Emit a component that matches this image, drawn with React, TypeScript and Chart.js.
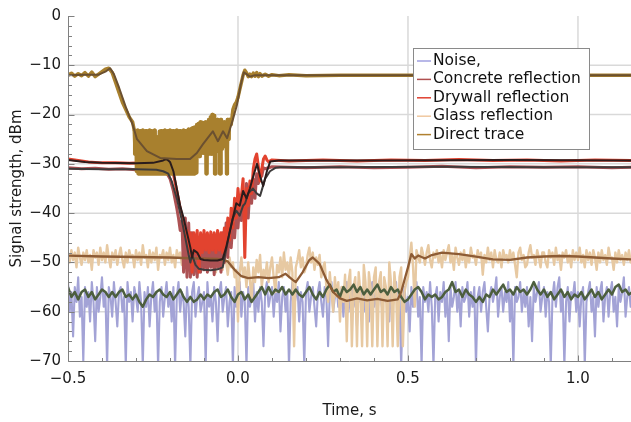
import React, { useEffect, useRef } from 'react';
import { Chart, registerables } from 'chart.js';
Chart.register(...registerables);

// ---------- data ----------
// dense series sampled every 5 ms from t = -0.5 s
const T0 = -0.5;
const DT_FINE = 0.005;
const DT_SMOOTH = 0.01;

const noiseRaw = [
  -54,-60,-56,-65,-55,-58,-53,-61,-57,-70,-55,-59,-56,-62,-54,-58,-66,-55,-60,-57,
  -53,-59,-56,-71,-55,-57,-61,-54,-58,-63,-56,-55,-60,-57,-71,-54,-58,-56,-62,-55,
  -57,-60,-54,-58,-71,-56,-59,-55,-63,-57,-54,-60,-56,-71,-58,-55,-61,-57,-54,-59,
  -56,-62,-55,-71,-57,-54,-60,-56,-58,-65,-55,-59,-71,-56,-54,-61,-57,-55,-60,-58,
  -56,-71,-54,-59,-57,-62,-55,-58,-66,-56,-54,-60,-57,-55,-63,-58,-56,-71,-55,-59,
  -57,-54,-61,-56,-58,-71,-55,-59,-57,-54,-62,-56,-60,-55,-58,-67,-56,-54,-59,-57,
  -55,-61,-56,-58,-54,-64,-57,-55,-60,-56,-71,-58,-54,-59,-57,-55,-62,-56,-58,-71,
  -56,-54,-60,-57,-55,-59,-63,-56,-54,-58,-61,-55,-57,-67,-56,-54,-60,-57,-55,-59,
  -58,-55,-61,-56,-54,-60,-57,-55,-59,-56,-63,-54,-58,-56,-60,-55,-57,-62,-56,-54,
  -59,-56,-61,-55,-57,-60,-54,-58,-56,-62,-55,-59,-57,-54,-61,-56,-71,-58,-55,-60,
  -57,-64,-55,-59,-56,-54,-61,-57,-71,-55,-58,-56,-60,-54,-59,-71,-57,-55,-62,-56,
  -58,-54,-61,-56,-66,-55,-59,-57,-54,-60,-56,-63,-55,-58,-57,-54,-61,-56,-59,-55,
  -71,-57,-55,-60,-56,-54,-59,-64,-57,-55,-58,-56,-53,-61,-57,-55,-60,-56,-58,-54,
  -62,-56,-71,-55,-58,-57,-54,-60,-56,-59,-55,-63,-57,-66,-55,-58,-56,-54,-60,-57,
  -55,-61,-56,-58,-71,-57,-54,-59,-55,-53,-60,-56,-71,-58,-55,-62,-56,-57,-54,-60,
  -56,-63,-57,-55,-71,-58,-56,-54,-60,-57,-65,-55,-59,-56,-54,-62,-57,-55,-61,-56,
  -54,-60,-57,-63,-55,-58,-56,-53,-61,-57,-55,-59,-56,
];

const noiseSmooth = [
  -55,-57,-56,-57.5,-56,-55.5,-57,-56,-57.5,-56.5,
  -55.5,-56,-57,-56,-57,-56,-55.5,-57,-56.5,-57.5,
  -56.5,-58,-59,-57.5,-56.5,-57,-56,-55.5,-56.5,-57,
  -56,-57.5,-56.5,-55.5,-57,-58,-57,-58,-57.5,-56.5,
  -57.5,-56.5,-57,-56,-55.5,-57,-56.5,-55.5,-57,-58,
  -56.5,-56,-57.5,-56.5,-58,-57,-56,-55,-56.5,-55,
  -56.5,-55.5,-56,-55,-56.5,-55.5,-56.5,-55.5,-56.5,-57,
  -56,-55,-56.5,-57.5,-56,-57,-55.5,-54.5,-56,-55.5,
  -57,-55,-56,-55.5,-54.5,-56,-55,-56.5,-55.5,-56.5,
  -55.5,-54.5,-56,-55.5,-56.5,-55,-56,-55.5,-57,-58,
  -57.5,-56.5,-55.5,-55,-56,-57.5,-56.5,-57,-56.5,-57.5,
  -57,-56,-55.5,-54,-56,-55.5,-57,-55.5,-56.5,-57,
  -58,-57,-58,-56.5,-57,-55.5,-56.5,-55.5,-54.5,-56,
  -55.5,-56.5,-55,-56,-55.5,-56.5,-55.5,-54,-55.5,-56.5,
  -55.5,-57,-56,-57.5,-56.5,-55.5,-57,-56,-57.5,-56.5,
  -57,-56,-57.5,-56.5,-55.5,-57,-56,-57.5,-56.5,-55.5,
  -56.5,-55,-54.5,-56,-55.5,-56.5,-56,
];

const glassRaw = [
  -48.5,-50,-47.5,-49.5,-48,-51,-47,-49,-50.5,-48,-49.5,-47.5,-50,-48.5,-51.5,-47.5,-49,-48,-50.5,-47,
  -49.5,-48,-50,-46.5,-49,-51,-48,-49.5,-47.5,-50.5,-48.5,-47,-49.5,-51,-48,-50,-47.5,-49,-48.5,-51,
  -47.5,-49.5,-48,-50.5,-46.5,-49,-48.5,-51,-47.5,-50,-48,-49.5,-47,-51.5,-48.5,-49,-47.5,-50.5,-48,-49.5,
  -47,-50,-48.5,-51,-47.5,-49,-48,-50.5,-46.5,-49.5,-48,-51,-47.5,-49,-48.5,-52,-47.5,-49.5,-48,-50,
  -47.5,-49,-51,-48,-50.5,-47,-49.5,-52,-48,-50,-49,-51.5,-48.5,-50,-52.5,-49,-51,-50,-53,-51.5,
  -62,-52,-49,-53,-51,-55,-50,-53.5,-58,-51,-54,-49.5,-52,-48.5,-55,-51.5,-53,-50,-54,-51,
  -49,-53,-56,-50.5,-52,-49,-53,-48,-51.5,-50,-53,-49,-52,-67,-51,-49.5,-47.5,-51,-49,-52,
  -51,-48.5,-47,-50,-48,-51.5,-49,-50.5,-48.5,-53,-51,-50,-55,-58,-52,-56,-60,-53,-57,-54,
  -62,-55,-58,-52.5,-66,-54,-51.5,-67,-55,-53,-67,-52,-56,-67,-50.5,-54,-67,-52,-55,-67,
  -53,-51,-67,-54,-52,-67,-53,-55,-67,-50,-54,-67,-52,-56,-67,-53,-51,-67,-56,-54,
  -53,-49,-46,-51,-59,-47.5,-49,-50,-47,-48.5,-50.5,-48,-46.5,-49.5,-51,-48,-49,-47.5,-50,-48.5,
  -51,-47.5,-49.5,-48,-46.5,-50,-48.5,-51.5,-47,-49,-50.5,-48,-49.5,-47.5,-51,-48.5,-50,-47,-49,-48.5,
  -50.5,-47.5,-49,-48,-52.5,-48.5,-50,-47,-49.5,-48,-51,-47.5,-49.5,-50,-48,-51,-47.5,-49,-48.5,-50,
  -47.5,-49.5,-48,-50.5,-53,-48,-47,-49.5,-48.5,-51,-50.5,-48,-46.5,-49,-48.5,-50.5,-47.5,-49,-51,-48,
  -48,-50,-51,-47.5,-49,-48,-50.5,-47,-49.5,-48.5,-51.5,-48,-49,-47.5,-50,-48.5,-51,-47.5,-49.5,-48,
  -49.5,-47,-50,-48.5,-51,-47.5,-49.5,-48,-50.5,-47.5,-49,-51.5,-48,-50,-47.5,-49.5,-48.5,-50.5,-47,-49,
  -49,-51.5,-48,-50,-47.5,-49.5,-48.5,-50.5,-48,-49.5,-47.5,-50,-49,
];

const glassSmooth: [number, number][] = [
  [-0.5,-48.6],[-0.4,-48.8],[-0.3,-48.9],[-0.2,-49],[-0.12,-49.2],[-0.06,-49.3],[-0.03,-49.8],
  [-0.01,-51.5],[0.01,-52.8],[0.03,-53.2],[0.06,-53],[0.09,-53.2],[0.12,-53],[0.14,-52.3],
  [0.16,-53.5],[0.17,-54],[0.19,-52],[0.21,-49.5],[0.22,-49],[0.24,-50.3],[0.26,-53.5],
  [0.28,-56],[0.3,-57.3],[0.32,-57.8],[0.35,-57.3],[0.38,-57.7],[0.41,-57.4],[0.44,-57.8],
  [0.47,-57.5],[0.48,-56],[0.5,-51],[0.51,-48.3],[0.52,-49.2],[0.53,-48.6],[0.55,-49.2],
  [0.57,-48.5],[0.6,-48],[0.65,-48.3],[0.7,-48.8],[0.75,-49.4],[0.8,-49.5],[0.85,-49],
  [0.9,-48.8],[0.95,-48.7],[1.0,-48.8],[1.05,-49],[1.1,-49.2],[1.16,-49.4],
];

const concreteRaw: [number, number][] = [
  [-0.5,-30.8],[-0.46,-31],[-0.42,-30.9],[-0.38,-31.1],[-0.34,-31],[-0.3,-31.2],[-0.26,-31.2],
  [-0.23,-31.4],[-0.21,-31.8],[-0.2,-33],[-0.19,-35.5],[-0.18,-39],[-0.175,-41],[-0.17,-43.5],
  [-0.165,-41.5],[-0.16,-52],[-0.155,-41],[-0.15,-53],[-0.145,-42],[-0.14,-53],[-0.135,-44],
  [-0.13,-52.5],[-0.125,-45],[-0.12,-53],[-0.115,-46],[-0.11,-52],[-0.105,-45],[-0.1,-51.5],
  [-0.095,-46],[-0.09,-52],[-0.085,-45.5],[-0.08,-51],[-0.075,-46],[-0.07,-52.5],[-0.065,-45],
  [-0.06,-51],[-0.055,-46],[-0.05,-52],[-0.045,-44],[-0.04,-50],[-0.035,-42],[-0.03,-49],
  [-0.025,-41.5],[-0.02,-47],[-0.015,-42],[-0.01,-45],[-0.005,-40],[0,-43],[0.005,-38],
  [0.01,-41.5],[0.015,-36],[0.02,-40],[0.025,-34],[0.03,-41],[0.035,-35],[0.04,-38],
  [0.045,-33],[0.05,-37],[0.055,-32],[0.06,-34],[0.065,-31.5],[0.07,-32.5],[0.075,-30.8],
  [0.08,-31],[0.1,-30.6],[0.2,-30.8],[0.3,-30.6],[0.4,-30.8],[0.5,-30.7],[0.6,-30.5],
  [0.7,-30.8],[0.8,-30.6],[0.9,-30.7],[1.0,-30.6],[1.1,-30.8],[1.16,-30.7],
];

const concreteSmooth: [number, number][] = [
  [-0.5,-31],[-0.4,-31.1],[-0.3,-31.1],[-0.24,-31.2],[-0.22,-31.5],[-0.205,-32],[-0.195,-33.5],
  [-0.18,-37],[-0.165,-41.5],[-0.155,-45],[-0.145,-48.5],[-0.14,-50],[-0.135,-48.5],
  [-0.125,-50.5],[-0.115,-51.3],[-0.1,-51.5],[-0.08,-51.6],[-0.06,-51.4],[-0.045,-51],
  [-0.035,-47.5],[-0.025,-44],[-0.015,-41],[-0.005,-39.5],[0.005,-40.5],[0.015,-38.5],
  [0.021,-38],[0.03,-36],[0.044,-35],[0.055,-36],[0.065,-36.5],[0.08,-33],[0.094,-31.5],
  [0.11,-30.8],[0.124,-30.7],[0.3,-30.7],[0.6,-30.6],[0.9,-30.7],[1.16,-30.7],
];

const drywallRaw: [number, number][] = [
  [-0.5,-29],[-0.47,-29.3],[-0.44,-29.6],[-0.4,-29.8],[-0.36,-29.8],[-0.32,-29.9],[-0.28,-29.8],
  [-0.25,-29.7],[-0.22,-29.4],[-0.21,-29.2],[-0.2,-30],[-0.19,-32],[-0.18,-35.5],[-0.17,-39],
  [-0.16,-42],[-0.155,-45],[-0.15,-43.5],[-0.145,-48],[-0.14,-44],[-0.135,-52],[-0.13,-44],
  [-0.125,-48],[-0.12,-43.5],[-0.115,-52],[-0.11,-44],[-0.105,-48],[-0.1,-43.5],[-0.095,-47.5],
  [-0.09,-44],[-0.085,-48],[-0.08,-43.8],[-0.075,-47.5],[-0.07,-44],[-0.065,-48],[-0.06,-43.5],
  [-0.055,-47.5],[-0.05,-44],[-0.045,-48],[-0.04,-43],[-0.035,-47],[-0.03,-41],[-0.025,-45.5],
  [-0.02,-39],[-0.015,-43],[-0.01,-37],[-0.005,-41],[0,-35],[0.005,-39],[0.01,-36.5],
  [0.015,-33],[0.02,-49],[0.025,-35],[0.03,-38.5],[0.035,-33.5],[0.04,-36],[0.045,-31],
  [0.05,-29],[0.055,-28],[0.06,-30.5],[0.065,-33.5],[0.07,-31],[0.075,-29],[0.08,-28.4],
  [0.085,-29.2],[0.09,-29.6],[0.1,-29.2],[0.15,-29.4],[0.25,-29.2],[0.35,-29.4],[0.45,-29.2],
  [0.55,-29.3],[0.65,-29.1],[0.75,-29.3],[0.85,-29.2],[0.95,-29.4],[1.05,-29.2],[1.16,-29.3],
];

const drywallSmooth: [number, number][] = [
  [-0.5,-29.2],[-0.45,-29.6],[-0.4,-29.8],[-0.3,-29.9],[-0.25,-29.8],[-0.22,-29.3],[-0.21,-29],
  [-0.2,-29.6],[-0.19,-31.5],[-0.18,-35],[-0.17,-38.5],[-0.16,-41],[-0.15,-44],[-0.14,-47],
  [-0.135,-49],[-0.13,-47.5],[-0.12,-48],[-0.11,-49.3],[-0.1,-49.5],[-0.08,-49.6],[-0.06,-49.6],
  [-0.045,-49.3],[-0.035,-47],[-0.025,-44],[-0.015,-41],[-0.005,-38],[0.005,-38.5],[0.015,-35.5],
  [0.025,-37],[0.035,-35],[0.045,-32.5],[0.056,-30],[0.065,-32.5],[0.074,-34.5],[0.085,-31.5],
  [0.095,-29.5],[0.12,-29.3],[0.4,-29.3],[0.8,-29.2],[1.16,-29.3],
];

const directRawBefore: [number, number][] = [
  [-0.5,-12],[-0.49,-11.6],[-0.48,-12.2],[-0.47,-11.7],[-0.46,-12.1],[-0.45,-11.5],[-0.44,-12.2],
  [-0.43,-11.4],[-0.42,-12.3],[-0.41,-11.8],[-0.4,-11.3],[-0.39,-10.8],[-0.38,-10.6],[-0.37,-11.5],
  [-0.36,-13.5],[-0.35,-15.5],[-0.34,-17.5],[-0.33,-19],[-0.32,-20.5],[-0.31,-21.5],
];
// fast fluctuation while the direct path is blocked, sampled every 2.5 ms from t = -0.305 s
const directBlockStart = -0.305;
const directBlockStep = 0.0025;
const directBlock = [
  -23.2,-28,-23.3,-31.5,-23.2,-32,-23.4,-32,-23.3,-32,-23.2,-32,-23.5,-32,-23.3,-32,-23.4,-32,-23.2,-32,
  -23.3,-32,-23.5,-32,-23.2,-32,-24.5,-32,-25.5,-32,-23.4,-32,-23.3,-32,-26.5,-32,-23.2,-32,-23.5,-32,
  -23.3,-32,-23.2,-32,-23.4,-32,-23.3,-32,-23.5,-32,-23.2,-32,-23.4,-32,-23.3,-32,-23.6,-32,-23.2,-32,
  -23.3,-32,-23.4,-32,-23,-32,-23.2,-32,-22.8,-32,-22.6,-32,-22.5,-31.8,-22,-28,-21.8,-28.5,-21.5,-27.5,
  -21.6,-27.8,-21.8,-27.5,-21.5,-32,-21.6,-28,-21,-27.5,-20.5,-28,-20,-27.5,-20.2,-32,-21.5,-27.5,-21,-27,
  -21.5,-32,-21,-27,-22,-26.5,-21.5,-26,-22,-32,-21,-25,-21,
];
const directRawAfter: [number, number][] = [
  [-0.02,-22],[-0.015,-19],[-0.01,-18],[-0.005,-17.5],[0,-16.5],[0.005,-15],
  [0.01,-13.5],[0.015,-12],[0.02,-11],[0.025,-11.5],[0.03,-12.3],[0.035,-11.8],[0.04,-12.3],
  [0.045,-11.6],[0.05,-12.2],[0.055,-11.5],[0.06,-12.3],[0.065,-11.7],[0.07,-12.2],[0.08,-11.8],
  [0.09,-12.2],[0.1,-11.9],[0.12,-12.1],[0.15,-11.9],[0.2,-12.1],[0.3,-12],[0.5,-12],[0.8,-12],
  [1.16,-12],
];

const directSmooth: [number, number][] = [
  [-0.5,-12],[-0.45,-11.9],[-0.41,-11.9],[-0.39,-11.3],[-0.376,-10.6],[-0.365,-11.8],[-0.35,-14.5],
  [-0.33,-18.5],[-0.31,-22],[-0.297,-25],[-0.268,-27.4],[-0.229,-28.8],[-0.18,-29],[-0.141,-29],
  [-0.121,-27.8],[-0.103,-26],[-0.074,-23.4],[-0.059,-25.4],[-0.044,-23.4],[-0.032,-24.8],
  [-0.015,-21],[-0.003,-18],[0.008,-14],[0.017,-11.4],[0.025,-11.8],[0.035,-12.3],[0.05,-12],
  [1.16,-12],
];

const yTicks = [0, -10, -20, -30, -40, -50, -60, -70];
const xTicks = [-0.5, 0, 0.5, 1.0];
const legendLabels = ['Noise,', 'Concrete reflection', 'Drywall reflection', 'Glass reflection', 'Direct trace'];

const COLORS = {
  noise: '#a3a3d6', noiseS: '#4c5e3e',
  glass: '#e7c9a2', glassS: '#8d5b34',
  concrete: '#ad5254', concreteS: '#3d3b3b',
  drywall: '#e2432f', drywallS: '#2a1c1c',
  direct: '#a8802e', directS: '#6b5030',
};
const legendColors = ['#a0a0e0', '#b05050', '#e04030', '#f0c8a0', '#b08030'];

// ---------- helpers ----------
const uni = (vals: number[], t0: number, dt: number) =>
  vals.map((y, i) => ({ x: +(t0 + i * dt).toFixed(4), y }));
const pts = (pairs: [number, number][]) => pairs.map(([x, y]) => ({ x, y }));
const FONT = 'DejaVu Sans';
const fmtY = (v: number) => (v < 0 ? '\u2212' + Math.abs(v) : String(v));
const fmtX = (v: number) => (v < 0 ? '\u2212' + Math.abs(v).toFixed(1) : v.toFixed(1));

const decoPlugin = {
  id: 'deco',
  beforeDatasetsDraw(chart: any) {
    const { ctx, chartArea, scales } = chart;
    const { left, right, top, bottom } = chartArea;
    ctx.save();
    ctx.strokeStyle = '#d9d9d9';
    ctx.lineWidth = 1.5;
    for (const v of [0, 0.5, 1.0]) {
      const px = scales.x.getPixelForValue(v);
      ctx.beginPath(); ctx.moveTo(px, top); ctx.lineTo(px, bottom); ctx.stroke();
    }
    for (const v of [-10, -20, -30, -40, -50, -60]) {
      const py = scales.y.getPixelForValue(v);
      ctx.beginPath(); ctx.moveTo(left, py); ctx.lineTo(right, py); ctx.stroke();
    }
    ctx.restore();
  },
  afterDatasetsDraw(chart: any) {
    const { ctx, chartArea, scales } = chart;
    const { left, right, top, bottom } = chartArea;
    ctx.save();
    ctx.strokeStyle = '#808080';
    ctx.lineWidth = 1;
    const L = Math.round(left) + 0.5;
    const B = Math.round(bottom) + 0.5;
    ctx.beginPath(); ctx.moveTo(L, top); ctx.lineTo(L, B); ctx.lineTo(right, B); ctx.stroke();
    for (let v = 0; v >= -70; v -= 2) {
      const py = Math.round(scales.y.getPixelForValue(v)) + 0.5;
      const len = v % 10 === 0 ? 6 : 3.5;
      ctx.beginPath(); ctx.moveTo(L, py); ctx.lineTo(L + len, py); ctx.stroke();
    }
    for (let k = -5; k <= 11; k++) {
      const v = k / 10;
      const px = Math.round(scales.x.getPixelForValue(v)) + 0.5;
      const len = k % 5 === 0 ? 6 : 3.5;
      ctx.beginPath(); ctx.moveTo(px, B); ctx.lineTo(px, B - len); ctx.stroke();
    }
    ctx.fillStyle = '#1a1a1a';
    ctx.font = `15px "${FONT}"`;
    ctx.textAlign = 'center';
    ctx.textBaseline = 'middle';
    ctx.fillText('Time, s', (left + right) / 2, 411);
    ctx.save();
    ctx.translate(17, (top + bottom) / 2);
    ctx.rotate(-Math.PI / 2);
    ctx.fillText('Signal strength, dBm', 0, 0);
    ctx.restore();
    // legend
    const bx = 413.5, by = 48.5, bw = 176, bh = 101;
    ctx.fillStyle = '#ffffff';
    ctx.fillRect(bx, by, bw, bh);
    ctx.strokeStyle = '#8a8a8a';
    ctx.lineWidth = 1;
    ctx.strokeRect(bx, by, bw, bh);
    ctx.font = `15.5px "${FONT}"`;
    ctx.textAlign = 'left';
    ctx.textBaseline = 'middle';
    legendLabels.forEach((lab, i) => {
      const cy = 61 + i * 18.4;
      ctx.strokeStyle = legendColors[i];
      ctx.lineWidth = 1.5;
      ctx.beginPath(); ctx.moveTo(417, cy); ctx.lineTo(431, cy); ctx.stroke();
      ctx.fillStyle = '#111';
      ctx.fillText(lab, 433, cy);
    });
    ctx.restore();
  },
};

const lineDs = (data: any[], color: string, width: number, order: number, extra: any = {}) => ({
  data, borderColor: color, backgroundColor: color, borderWidth: width,
  pointRadius: 0, tension: 0, fill: false, order,
  borderJoinStyle: 'round' as const, borderCapStyle: 'round' as const,
  ...extra,
});

export default function App() {
  const ref = useRef<HTMLCanvasElement>(null);
  useEffect(() => {
    if (!ref.current) return;
    const blockPts = uni(directBlock, directBlockStart, directBlockStep);
    const directRaw = [...pts(directRawBefore), ...blockPts, ...pts(directRawAfter)];
    const chart = new Chart(ref.current, {
      type: 'line',
      data: {
        datasets: [
          lineDs(pts(directSmooth), COLORS.directS, 2, 1),
          lineDs(pts(drywallSmooth), COLORS.drywallS, 2, 2),
          lineDs(pts(concreteSmooth), COLORS.concreteS, 2, 3),
          lineDs(pts(glassSmooth), COLORS.glassS, 2.3, 4),
          lineDs(uni(noiseSmooth, T0, DT_SMOOTH), COLORS.noiseS, 2.5, 5),
          lineDs(directRaw, COLORS.direct, 3.5, 6),
          // the fast-fluctuating stretch is drawn as vertical steps so it reads as a solid band
          lineDs(blockPts, COLORS.direct, 3.5, 6.5, { stepped: 'middle' }),
          lineDs(pts(drywallRaw), COLORS.drywall, 3, 7, { stepped: false }),
          lineDs(pts(concreteRaw), COLORS.concrete, 3, 8),
          lineDs(uni(glassRaw, T0, DT_FINE), COLORS.glass, 2.4, 9),
          lineDs(uni(noiseRaw, T0, DT_FINE), COLORS.noise, 2.1, 10),
        ],
      },
      options: {
        animation: false,
        responsive: false,
        layout: { padding: { top: 14, right: 0, left: 0, bottom: 0 } },
        plugins: { legend: { display: false }, tooltip: { enabled: false } },
        events: [],
        scales: {
          x: {
            type: 'linear', min: -0.5, max: 1.156,
            grid: { display: false, drawTicks: false },
            border: { display: false },
            afterBuildTicks: (s: any) => { s.ticks = xTicks.map((value) => ({ value })); },
            afterFit: (s: any) => { s.height = 61; },
            ticks: {
              padding: 9, color: '#1a1a1a', maxRotation: 0, autoSkip: false,
              font: { family: FONT, size: 15 },
              callback: (v: any) => fmtX(Number(v)),
            },
          },
          y: {
            type: 'linear', min: -70, max: 0,
            grid: { display: false, drawTicks: false },
            border: { display: false },
            afterBuildTicks: (s: any) => { s.ticks = yTicks.map((value) => ({ value })); },
            afterFit: (s: any) => { s.width = 68; },
            ticks: {
              padding: 7, color: '#1a1a1a', autoSkip: false,
              font: { family: FONT, size: 15 },
              callback: (v: any) => fmtY(Number(v)),
            },
          },
        },
      },
      plugins: [decoPlugin],
    });
    return () => chart.destroy();
  }, []);
  return (
    <div style={{ position: 'absolute', left: 0, top: 0, width: 631, height: 422, background: '#fff' }}>
      <canvas ref={ref} width={631} height={422} style={{ width: 631, height: 422 }} />
    </div>
  );
}
